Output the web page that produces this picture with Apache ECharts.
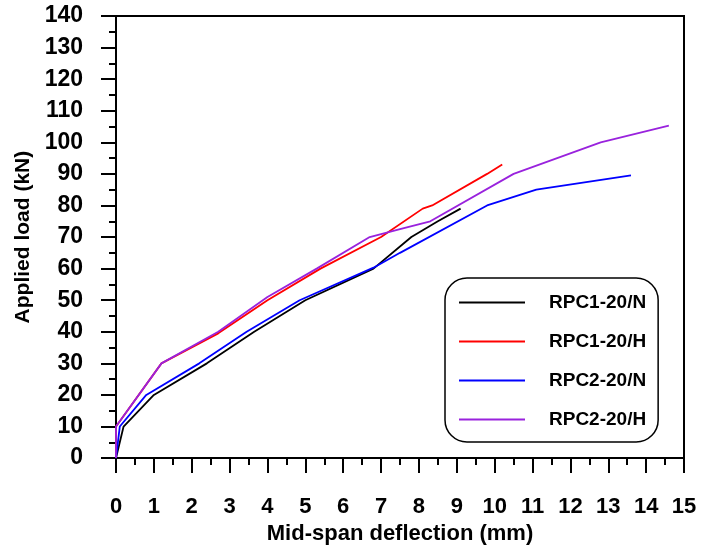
<!DOCTYPE html>
<html>
<head>
<meta charset="utf-8">
<script src="https://cdn.jsdelivr.net/npm/echarts@6/dist/echarts.min.js"></script>
<style>html,body{margin:0;padding:0;background:#fff}#c{width:704px;height:550px}</style>
</head>
<body>
<div id="c"></div>
<script>
const seriesNames = ['RPC1-20/N', 'RPC1-20/H', 'RPC2-20/N', 'RPC2-20/H'];
const seriesColors = ['#000000', '#ff0000', '#0000ff', '#9922dd'];
const rpc1N = [[0,0],[0.2,10],[1,20],[2.4,30],[3.65,40],[5.0,50],[6.8,60],[7.8,70],[8.5,75],[9.1,79]];
const rpc1H = [[0,0],[0,10],[1.2,30],[2.7,39.5],[4,50],[5.4,60],[7,70],[8.1,79],[8.35,80],[9.8,90],[10.2,93]];
const rpc2N = [[0,0],[0.1,10],[0.8,20],[2.2,30],[3.45,40],[4.85,50],[6.8,60.3],[7.5,65],[9.8,80],[11.1,85],[13.6,89.5]];
const rpc2H = [[0,0],[0,10],[1.2,30],[2.7,40],[4,51],[5.3,60],[6.7,70],[7.5,72.5],[8.3,75],[10.5,90],[12.8,100],[14.6,105.3]];
const allData = [rpc1N, rpc1H, rpc2N, rpc2H];
const xTitle = 'Mid-span deflection (mm)';
const yTitle = 'Applied load (kN)';

const font = 'Liberation Sans, Arial, sans-serif';
const chart = echarts.init(document.getElementById('c'));
chart.setOption({
  animation: false,
  grid: { left: 116, right: 20, top: 16, bottom: 91, show: true, borderColor: '#000', borderWidth: 2, backgroundColor: 'transparent' },
  legend: {
    orient: 'vertical', left: 445, top: 278,
    data: seriesNames,
    itemWidth: 66, itemHeight: 14, itemGap: 20,
    padding: [15, 12, 13, 13],
    borderColor: '#000', borderWidth: 1.5, borderRadius: 22,
    itemStyle: { opacity: 0 },
    textStyle: { fontFamily: font, fontWeight: 'bold', fontSize: 19, color: '#000', padding: [0, 0, 0, 19] }
  },
  xAxis: {
    type: 'value', min: 0, max: 15, interval: 1,
    name: xTitle, nameLocation: 'middle', nameGap: 61,
    nameTextStyle: { fontFamily: font, fontWeight: 'bold', fontSize: 22, color: '#000' },
    axisLine: { show: true, lineStyle: { color: '#000', width: 2 } },
    axisTick: { show: true, inside: false, length: 15, lineStyle: { color: '#000', width: 2 } },
    minorTick: { show: true, splitNumber: 2, length: 7, lineStyle: { color: '#000', width: 2 } },
    splitLine: { show: false },
    axisLabel: { margin: 38, fontFamily: font, fontWeight: 'bold', fontSize: 22, color: '#000' }
  },
  yAxis: {
    type: 'value', min: 0, max: 140, interval: 10,
    name: yTitle, nameLocation: 'middle', nameGap: 81, nameRotate: 90,
    nameTextStyle: { fontFamily: font, fontWeight: 'bold', fontSize: 21, color: '#000' },
    axisLine: { show: true, lineStyle: { color: '#000', width: 2 } },
    axisTick: { show: true, inside: false, length: 15, lineStyle: { color: '#000', width: 2 } },
    minorTick: { show: true, splitNumber: 2, length: 7, lineStyle: { color: '#000', width: 2 } },
    splitLine: { show: false },
    axisLabel: { margin: 33, fontFamily: font, fontWeight: 'bold', fontSize: 23, color: '#000' }
  },
  series: allData.map((d, i) => ({
    name: seriesNames[i], type: 'line', data: d, symbol: 'none',
    lineStyle: { color: seriesColors[i], width: 1.8 },
    itemStyle: { color: seriesColors[i] }
  }))
});
</script>
</body>
</html>
